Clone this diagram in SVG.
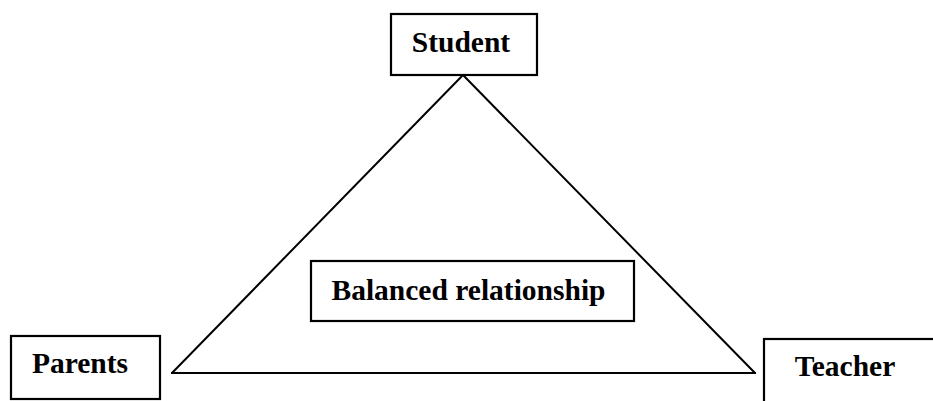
<svg xmlns="http://www.w3.org/2000/svg" width="933" height="401" viewBox="0 0 933 401">
  <style>
    .box { fill: #fff; stroke: #000; stroke-width: 2.2; }
    .label { font-family: "Liberation Serif", "Times New Roman", serif; font-weight: bold; font-size: 29.5px; fill: #000; text-anchor: middle; }
    .edge { stroke: #000; stroke-width: 2; fill: none; stroke-linecap: round; }
  </style>
  <rect width="933" height="401" fill="#fff"/>

  <!-- triangle linking the three parties -->
  <g id="connectors">
    <line class="edge" x1="463" y1="75" x2="172" y2="373"/>
    <line class="edge" x1="463" y1="75" x2="755" y2="373"/>
    <line class="edge" x1="172" y1="373" x2="755" y2="373"/>
  </g>

  <g id="student">
    <rect class="box" x="391" y="14" width="146" height="61"/>
    <text class="label" x="461" y="52">Student</text>
  </g>

  <g id="balanced">
    <rect class="box" x="311" y="261" width="323" height="60"/>
    <text class="label" x="468.5" y="300">Balanced relationship</text>
  </g>

  <g id="parents">
    <rect class="box" x="11" y="336" width="149" height="63"/>
    <text class="label" x="80" y="373">Parents</text>
  </g>

  <g id="teacher">
    <rect class="box" x="764" y="339" width="180" height="80"/>
    <text class="label" x="845" y="376">Teacher</text>
  </g>
</svg>
